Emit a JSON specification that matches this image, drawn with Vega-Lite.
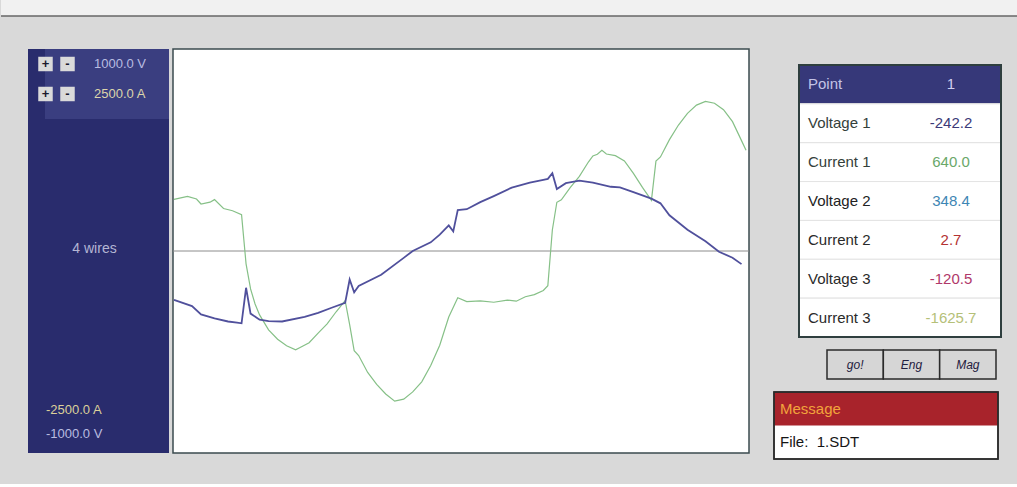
{
  "$schema": "https://vega.github.io/schema/vega-lite/v6.json",
  "background": "#d9d9d9",
  "padding": {"left": 0, "top": 0, "right": 0, "bottom": 24},
  "config": {"view": {"stroke": null}, "font": "Liberation Sans"},
  "datasets": {
    "voltage": [
      {"p": 1, "v": -242.2}, {"p": 5, "v": -273}, {"p": 7, "v": -314}, {"p": 10, "v": -334},
      {"p": 13, "v": -349}, {"p": 15, "v": -355}, {"p": 16, "v": -358}, {"p": 17, "v": -182},
      {"p": 18, "v": -310}, {"p": 20, "v": -340}, {"p": 22, "v": -347}, {"p": 25, "v": -349},
      {"p": 30, "v": -326}, {"p": 33, "v": -306}, {"p": 36, "v": -281}, {"p": 39, "v": -257},
      {"p": 40, "v": -141}, {"p": 41, "v": -204}, {"p": 42, "v": -173}, {"p": 47, "v": -118},
      {"p": 52, "v": -34}, {"p": 54, "v": 0}, {"p": 58, "v": 43}, {"p": 60, "v": 81},
      {"p": 62, "v": 127}, {"p": 63, "v": 97}, {"p": 64, "v": 203}, {"p": 66, "v": 207},
      {"p": 69, "v": 242}, {"p": 72, "v": 272}, {"p": 76, "v": 314}, {"p": 80, "v": 338},
      {"p": 83, "v": 352}, {"p": 84, "v": 357}, {"p": 85, "v": 385}, {"p": 86, "v": 307},
      {"p": 88, "v": 336}, {"p": 91, "v": 348}, {"p": 94, "v": 338}, {"p": 98, "v": 318},
      {"p": 100, "v": 315}, {"p": 103, "v": 291}, {"p": 107, "v": 259}, {"p": 109, "v": 236},
      {"p": 111, "v": 177}, {"p": 113, "v": 141}, {"p": 115, "v": 105}, {"p": 119, "v": 48},
      {"p": 122, "v": -4}, {"p": 125, "v": -33}, {"p": 127, "v": -65}
    ],
    "current": [
      {"p": 1, "i": 640}, {"p": 4, "i": 675}, {"p": 6, "i": 643}, {"p": 7, "i": 582},
      {"p": 9, "i": 604}, {"p": 10, "i": 636}, {"p": 12, "i": 526}, {"p": 14, "i": 498},
      {"p": 16, "i": 449}, {"p": 17, "i": -159}, {"p": 18, "i": -469}, {"p": 19, "i": -656},
      {"p": 20, "i": -791}, {"p": 22, "i": -976}, {"p": 24, "i": -1092}, {"p": 26, "i": -1172},
      {"p": 28, "i": -1223}, {"p": 29, "i": -1194}, {"p": 31, "i": -1135}, {"p": 33, "i": -1016},
      {"p": 35, "i": -903}, {"p": 37, "i": -752}, {"p": 39, "i": -613}, {"p": 40, "i": -911},
      {"p": 41, "i": -1234}, {"p": 42, "i": -1294}, {"p": 44, "i": -1503}, {"p": 46, "i": -1651},
      {"p": 48, "i": -1769}, {"p": 50, "i": -1859}, {"p": 52, "i": -1833}, {"p": 54, "i": -1744},
      {"p": 56, "i": -1619}, {"p": 58, "i": -1418}, {"p": 60, "i": -1167}, {"p": 62, "i": -817},
      {"p": 64, "i": -578}, {"p": 66, "i": -627}, {"p": 69, "i": -618}, {"p": 72, "i": -634},
      {"p": 75, "i": -607}, {"p": 77, "i": -621}, {"p": 79, "i": -566}, {"p": 81, "i": -540},
      {"p": 83, "i": -488}, {"p": 84, "i": -429}, {"p": 85, "i": 260}, {"p": 86, "i": 603},
      {"p": 87, "i": 634}, {"p": 89, "i": 786}, {"p": 91, "i": 924}, {"p": 93, "i": 1101},
      {"p": 94, "i": 1177}, {"p": 95, "i": 1197}, {"p": 96, "i": 1246}, {"p": 97, "i": 1200},
      {"p": 99, "i": 1180}, {"p": 101, "i": 1115}, {"p": 103, "i": 960}, {"p": 105, "i": 787},
      {"p": 107, "i": 628}, {"p": 108, "i": 1113}, {"p": 109, "i": 1164}, {"p": 111, "i": 1378},
      {"p": 113, "i": 1559}, {"p": 115, "i": 1704}, {"p": 117, "i": 1806}, {"p": 119, "i": 1851},
      {"p": 121, "i": 1829}, {"p": 123, "i": 1749}, {"p": 125, "i": 1601}, {"p": 127, "i": 1366},
      {"p": 128, "i": 1246}
    ],
    "scaleButtons": [
      {"row": "V", "col": "+"}, {"row": "V", "col": "-"},
      {"row": "A", "col": "+"}, {"row": "A", "col": "-"}
    ],
    "scaleLabels": [
      {"row": "V", "col": "lab", "text": "1000.0 V"},
      {"row": "A", "col": "lab", "text": "2500.0 A"}
    ],
    "minLabels": [
      {"row": "A", "col": "lab", "text": "-2500.0 A"},
      {"row": "V", "col": "lab", "text": "-1000.0 V"}
    ],
    "table": [
      {"row": "Point", "label": "Point", "value": "1"},
      {"row": "Voltage 1", "label": "Voltage 1", "value": "-242.2"},
      {"row": "Current 1", "label": "Current 1", "value": "640.0"},
      {"row": "Voltage 2", "label": "Voltage 2", "value": "348.4"},
      {"row": "Current 2", "label": "Current 2", "value": "2.7"},
      {"row": "Voltage 3", "label": "Voltage 3", "value": "-120.5"},
      {"row": "Current 3", "label": "Current 3", "value": "-1625.7"}
    ],
    "buttons": [{"btn": "go!"}, {"btn": "Eng"}, {"btn": "Mag"}],
    "message": [
      {"part": "head", "text": "Message"},
      {"part": "body", "text": "File:\u00a0 1.SDT"}
    ]
  },
  "vconcat": [
    {
      "width": 1017, "height": 16,
      "view": {"fill": "#f1f1f1"},
      "data": {"values": [{}]},
      "mark": {"type": "rule", "color": "#666666", "strokeWidth": 1.5},
      "encoding": {"y": {"datum": 0, "type": "quantitative", "axis": null, "scale": {"domain": [0, 1]}}}
    },
    {
      "hconcat": [
        {
          "width": 27, "height": 10,
          "data": {"values": [{}]},
          "mark": {"type": "point", "opacity": 0},
          "encoding": {}
        },
        {
          "vconcat": [
            {
              "width": 141, "height": 70,
              "view": {"fill": "#292c6d"},
              "layer": [
                {
                  "data": {"values": [{}]},
                  "mark": {"type": "rect", "fill": "#3a3e80"},
                  "encoding": {
                    "x": {"datum": "glare", "type": "nominal", "axis": null, "scale": {"type": "band", "domain": ["glare"], "range": [17, 141], "paddingInner": 0, "paddingOuter": 0}}
                  }
                },
                {
                  "data": {"name": "scaleButtons"},
                  "mark": {"type": "square", "size": 210, "filled": true, "opacity": 1, "color": "#dadada"},
                  "encoding": {
                    "x": {"field": "col", "type": "nominal", "axis": null, "scale": {"type": "point", "domain": ["+", "-", "lab"], "range": [17.5, 61.5], "padding": 0}},
                    "y": {"field": "row", "type": "nominal", "axis": null, "scale": {"type": "point", "domain": ["V", "A"], "padding": 0.667, "align": 0.375}}
                  }
                },
                {
                  "data": {"name": "scaleButtons"},
                  "mark": {"type": "text", "fontSize": 13, "fontWeight": "bold", "color": "#1b1b2e"},
                  "encoding": {
                    "x": {"field": "col", "type": "nominal", "axis": null, "scale": {"type": "point", "domain": ["+", "-", "lab"], "range": [17.5, 61.5], "padding": 0}},
                    "y": {"field": "row", "type": "nominal", "axis": null, "scale": {"type": "point", "domain": ["V", "A"], "padding": 0.667, "align": 0.375}},
                    "text": {"field": "col"}
                  }
                },
                {
                  "data": {"name": "scaleLabels"},
                  "mark": {"type": "text", "fontSize": 13, "align": "left", "dx": 4.5},
                  "encoding": {
                    "x": {"field": "col", "type": "nominal", "axis": null, "scale": {"type": "point", "domain": ["+", "-", "lab"], "range": [17.5, 61.5], "padding": 0}},
                    "y": {"field": "row", "type": "nominal", "axis": null, "scale": {"type": "point", "domain": ["V", "A"], "padding": 0.667, "align": 0.375}},
                    "text": {"field": "text"},
                    "color": {"field": "row", "type": "nominal", "legend": null, "scale": {"domain": ["V", "A"], "range": ["#b9bce0", "#dcd5ab"]}}
                  }
                }
              ],
              "resolve": {"scale": {"x": "independent"}}
            },
            {
              "width": 141, "height": 264,
              "view": {"fill": "#292c6d"},
              "data": {"values": [{"text": "4 wires"}]},
              "mark": {"type": "text", "fontSize": 14, "color": "#b4b6d4", "dx": -4, "dy": -2},
              "encoding": {"text": {"field": "text"}}
            },
            {
              "width": 141, "height": 70,
              "view": {"fill": "#292c6d"},
              "data": {"name": "minLabels"},
              "mark": {"type": "text", "fontSize": 13, "align": "left"},
              "encoding": {
                "x": {"field": "col", "type": "nominal", "axis": null, "scale": {"type": "point", "domain": ["lab"], "range": [18, 18]}},
                "y": {"field": "row", "type": "nominal", "axis": null, "scale": {"type": "point", "domain": ["A", "V"], "padding": 0.958, "align": 0.587}},
                "text": {"field": "text"},
                "color": {"field": "row", "type": "nominal", "legend": null, "scale": {"domain": ["A", "V"], "range": ["#dcd09a", "#b9bce0"]}}
              }
            }
          ],
          "spacing": 0,
          "resolve": {"scale": {"color": "independent"}}
        },
        {
          "width": 576, "height": 404,
          "view": {"fill": "#ffffff", "stroke": "#3b4b4f", "strokeWidth": 1.5},
          "layer": [
            {
              "data": {"values": [{}]},
              "mark": {"type": "rule", "color": "#8c8c8c", "strokeWidth": 1},
              "encoding": {"y": {"datum": 0, "type": "quantitative", "axis": null, "scale": {"domain": [-1000, 1000], "nice": false}}}
            },
            {
              "data": {"name": "current"},
              "mark": {"type": "line", "color": "#86c087", "strokeWidth": 1.2},
              "encoding": {
                "x": {"field": "p", "type": "quantitative", "axis": null, "scale": {"domain": [0.78, 128.66], "nice": false, "zero": false}},
                "y": {"field": "i", "type": "quantitative", "axis": null, "scale": {"domain": [-2500, 2500], "nice": false}}
              }
            },
            {
              "data": {"name": "voltage"},
              "mark": {"type": "line", "color": "#50509c", "strokeWidth": 1.8},
              "encoding": {
                "x": {"field": "p", "type": "quantitative", "axis": null, "scale": {"domain": [0.78, 128.66], "nice": false, "zero": false}},
                "y": {"field": "v", "type": "quantitative", "axis": null, "scale": {"domain": [-1000, 1000], "nice": false}}
              }
            }
          ],
          "resolve": {"scale": {"y": "independent"}}
        },
        {
          "vconcat": [
            {
              "width": 250, "height": 1,
              "data": {"values": [{}]},
              "mark": {"type": "point", "opacity": 0},
              "encoding": {}
            },
            {
              "width": 250, "height": 272,
              "data": {"name": "table"},
              "layer": [
                {
                  "mark": {"type": "rect", "stroke": "#e3e3e3", "strokeWidth": 1},
                  "encoding": {
                    "x": {"datum": "all", "type": "nominal", "axis": null, "scale": {"type": "band", "domain": ["all"], "range": [48, 250], "paddingInner": 0, "paddingOuter": 0}},
                    "y": {"field": "row", "type": "nominal", "axis": null, "scale": {"type": "band", "domain": ["Point", "Voltage 1", "Current 1", "Voltage 2", "Current 2", "Voltage 3", "Current 3"], "paddingInner": 0, "paddingOuter": 0}},
                    "fill": {"field": "row", "type": "nominal", "legend": null, "scale": {"domain": ["Point", "Voltage 1", "Current 1", "Voltage 2", "Current 2", "Voltage 3", "Current 3"], "range": ["#363879", "#ffffff", "#ffffff", "#ffffff", "#ffffff", "#ffffff", "#ffffff"]}}
                  }
                },
                {
                  "mark": {"type": "text", "fontSize": 15, "align": "left"},
                  "encoding": {
                    "x": {"datum": "label", "type": "nominal", "axis": null, "scale": {"type": "point", "domain": ["label", "value"], "range": [57, 200], "padding": 0}},
                    "y": {"field": "row", "type": "nominal", "axis": null, "scale": {"type": "band", "domain": ["Point", "Voltage 1", "Current 1", "Voltage 2", "Current 2", "Voltage 3", "Current 3"], "paddingInner": 0, "paddingOuter": 0}},
                    "text": {"field": "label"},
                    "color": {"field": "row", "type": "nominal", "legend": null, "scale": {"domain": ["Point", "Voltage 1", "Current 1", "Voltage 2", "Current 2", "Voltage 3", "Current 3"], "range": ["#c4c4e6", "#34403a", "#34403a", "#222222", "#2a2a2a", "#2a2a2a", "#2a2a2a"]}}
                  }
                },
                {
                  "mark": {"type": "text", "fontSize": 15, "align": "center"},
                  "encoding": {
                    "x": {"datum": "value", "type": "nominal", "axis": null, "scale": {"type": "point", "domain": ["label", "value"], "range": [57, 200], "padding": 0}},
                    "y": {"field": "row", "type": "nominal", "axis": null, "scale": {"type": "band", "domain": ["Point", "Voltage 1", "Current 1", "Voltage 2", "Current 2", "Voltage 3", "Current 3"], "paddingInner": 0, "paddingOuter": 0}},
                    "text": {"field": "value"},
                    "color": {"field": "row", "type": "nominal", "legend": null, "scale": {"domain": ["Point", "Voltage 1", "Current 1", "Voltage 2", "Current 2", "Voltage 3", "Current 3"], "range": ["#d0d0f0", "#3b3a78", "#6aa86a", "#3e86b4", "#b33232", "#b0386a", "#b5c078"]}}
                  }
                },
                {
                  "mark": {"type": "rect", "fillOpacity": 0, "stroke": "#2f3f3f", "strokeWidth": 1.8},
                  "encoding": {
                    "x": {"datum": "all", "type": "nominal", "axis": null, "scale": {"type": "band", "domain": ["all"], "range": [48, 250], "paddingInner": 0, "paddingOuter": 0}}
                  }
                }
              ],
              "resolve": {"scale": {"x": "independent", "color": "independent"}}
            },
            {
              "width": 250, "height": 29,
              "data": {"name": "buttons"},
              "layer": [
                {
                  "mark": {"type": "rect", "fill": "#d6d6d6", "stroke": "#2b2b2b", "strokeWidth": 1.5},
                  "encoding": {
                    "x": {"field": "btn", "type": "nominal", "axis": null, "scale": {"type": "band", "domain": ["go!", "Eng", "Mag"], "range": [76, 245], "paddingInner": 0, "paddingOuter": 0}}
                  }
                },
                {
                  "mark": {"type": "text", "fontSize": 12, "fontStyle": "italic", "color": "#1f2040"},
                  "encoding": {
                    "x": {"field": "btn", "type": "nominal", "axis": null, "scale": {"type": "band", "domain": ["go!", "Eng", "Mag"], "range": [76, 245], "paddingInner": 0, "paddingOuter": 0}},
                    "text": {"field": "btn"}
                  }
                }
              ]
            },
            {
              "width": 250, "height": 67,
              "data": {"name": "message"},
              "layer": [
                {
                  "mark": {"type": "rect", "fill": "#ffffff"},
                  "encoding": {
                    "x": {"datum": "box", "type": "nominal", "axis": null, "scale": {"type": "band", "domain": ["box"], "range": [23, 247], "paddingInner": 0, "paddingOuter": 0}}
                  }
                },
                {
                  "transform": [{"filter": "datum.part === 'head'"}],
                  "mark": {"type": "rect", "fill": "#a8232b"},
                  "encoding": {
                    "x": {"datum": "box", "type": "nominal", "axis": null, "scale": {"type": "band", "domain": ["box"], "range": [23, 247], "paddingInner": 0, "paddingOuter": 0}},
                    "y": {"field": "part", "type": "nominal", "axis": null, "scale": {"type": "band", "domain": ["head", "body"], "paddingInner": 0, "paddingOuter": 0}}
                  }
                },
                {
                  "mark": {"type": "rect", "fillOpacity": 0, "stroke": "#2b2b2b", "strokeWidth": 1.5},
                  "encoding": {
                    "x": {"datum": "box", "type": "nominal", "axis": null, "scale": {"type": "band", "domain": ["box"], "range": [23, 247], "paddingInner": 0, "paddingOuter": 0}}
                  }
                },
                {
                  "mark": {"type": "text", "fontSize": 15, "align": "left"},
                  "encoding": {
                    "x": {"datum": "t", "type": "nominal", "axis": null, "scale": {"type": "point", "domain": ["t"], "range": [29, 29]}},
                    "y": {"field": "part", "type": "nominal", "axis": null, "scale": {"type": "band", "domain": ["head", "body"], "paddingInner": 0, "paddingOuter": 0}},
                    "text": {"field": "text"},
                    "color": {"field": "part", "type": "nominal", "legend": null, "scale": {"domain": ["head", "body"], "range": ["#f2a43c", "#151515"]}}
                  }
                }
              ],
              "resolve": {"scale": {"x": "independent"}}
            }
          ],
          "spacing": 11,
          "resolve": {"scale": {"color": "independent"}}
        }
      ],
      "spacing": 0,
      "resolve": {"scale": {"color": "independent"}}
    }
  ],
  "spacing": 29,
  "resolve": {"scale": {"color": "independent"}}
}
